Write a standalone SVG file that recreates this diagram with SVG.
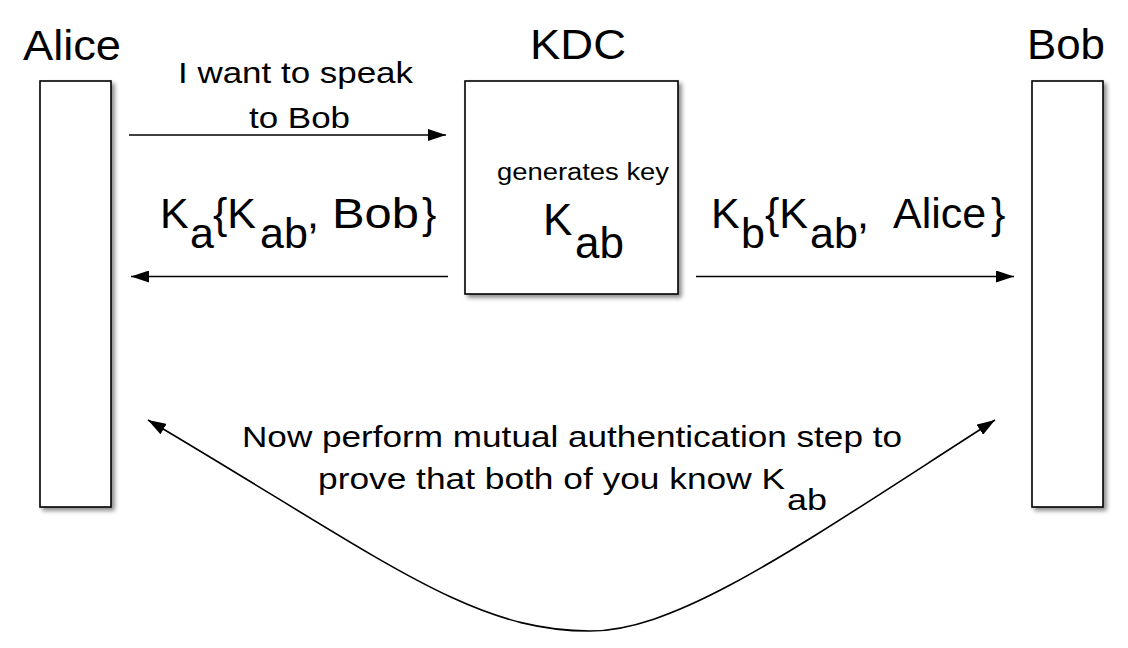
<svg xmlns="http://www.w3.org/2000/svg" width="1128" height="648" viewBox="0 0 1128 648">
  <defs>
    <filter id="shadow" x="-20%" y="-20%" width="140%" height="140%">
      <feDropShadow dx="3" dy="3" stdDeviation="2" flood-color="#000" flood-opacity="0.45"/>
    </filter>
    <marker id="arrow" markerUnits="userSpaceOnUse" markerWidth="18" markerHeight="12" refX="18" refY="6" orient="auto-start-reverse">
      <path d="M0,0 L18,6 L0,12 z" fill="#000"/>
    </marker>
  </defs>
  <style>
    .box { fill: #fff; stroke: #000; stroke-width: 1.6; filter: url(#shadow); }
    .t { font-family: "Liberation Sans", Arial, Helvetica, sans-serif; fill: #000; }
    .conn { fill: none; stroke: #000; stroke-width: 1.6; }
  </style>
  <rect width="1128" height="648" fill="#fff"/>

  <g id="alice">
    <rect class="box" x="40" y="81" width="71" height="426"/>
    <text class="t" x="23" y="60" font-size="43" textLength="98" lengthAdjust="spacingAndGlyphs">Alice</text>
  </g>

  <g id="kdc">
    <rect class="box" x="465" y="81" width="213" height="213"/>
    <text class="t" x="530" y="59" font-size="43" textLength="96" lengthAdjust="spacingAndGlyphs">KDC</text>
    <text class="t" x="497" y="180" font-size="23" textLength="172" lengthAdjust="spacingAndGlyphs">generates key</text>
    <text class="t" font-size="44"><tspan x="543" y="235">K</tspan><tspan x="575" y="258">ab</tspan></text>
  </g>

  <g id="bob">
    <rect class="box" x="1032" y="81" width="71" height="426"/>
    <text class="t" x="1027" y="59" font-size="43" textLength="78" lengthAdjust="spacingAndGlyphs">Bob</text>
  </g>

  <g id="connectors">
    <line class="conn" x1="129" y1="135" x2="446" y2="135" marker-end="url(#arrow)"/>
    <line class="conn" x1="448" y1="276.5" x2="131" y2="276.5" marker-end="url(#arrow)"/>
    <line class="conn" x1="696" y1="276.5" x2="1014" y2="276.5" marker-end="url(#arrow)"/>
    <path class="conn" d="M148,420 C385,560 470,631 590,631 C680,631 800,545 995,420" marker-start="url(#arrow)" marker-end="url(#arrow)"/>
  </g>

  <g id="labels">
    <text class="t" x="178" y="83" font-size="29" textLength="235" lengthAdjust="spacingAndGlyphs">I want to speak</text>
    <text class="t" x="249" y="128" font-size="29" textLength="101" lengthAdjust="spacingAndGlyphs">to Bob</text>

    <text class="t" font-size="43"><tspan x="160" y="228">K</tspan><tspan x="190" y="248">a</tspan><tspan x="213" y="228">{K</tspan><tspan x="260" y="248">ab</tspan><tspan x="307" y="228">,</tspan><tspan x="332" y="228" textLength="87" lengthAdjust="spacingAndGlyphs">Bob</tspan><tspan x="422" y="228">}</tspan></text>

    <text class="t" font-size="43"><tspan x="711" y="228">K</tspan><tspan x="741" y="248">b</tspan><tspan x="765" y="228">{K</tspan><tspan x="810" y="248">ab</tspan><tspan x="857" y="228">,</tspan><tspan x="893" y="228">Alice</tspan><tspan x="991" y="228">}</tspan></text>

    <text class="t" x="242" y="447" font-size="30" textLength="660" lengthAdjust="spacingAndGlyphs">Now perform mutual authentication step to</text>
    <text class="t" x="318" y="489" font-size="30" textLength="467" lengthAdjust="spacingAndGlyphs">prove that both of you know K</text>
    <text class="t" x="787" y="510" font-size="30" textLength="40" lengthAdjust="spacingAndGlyphs">ab</text>
  </g>
</svg>
